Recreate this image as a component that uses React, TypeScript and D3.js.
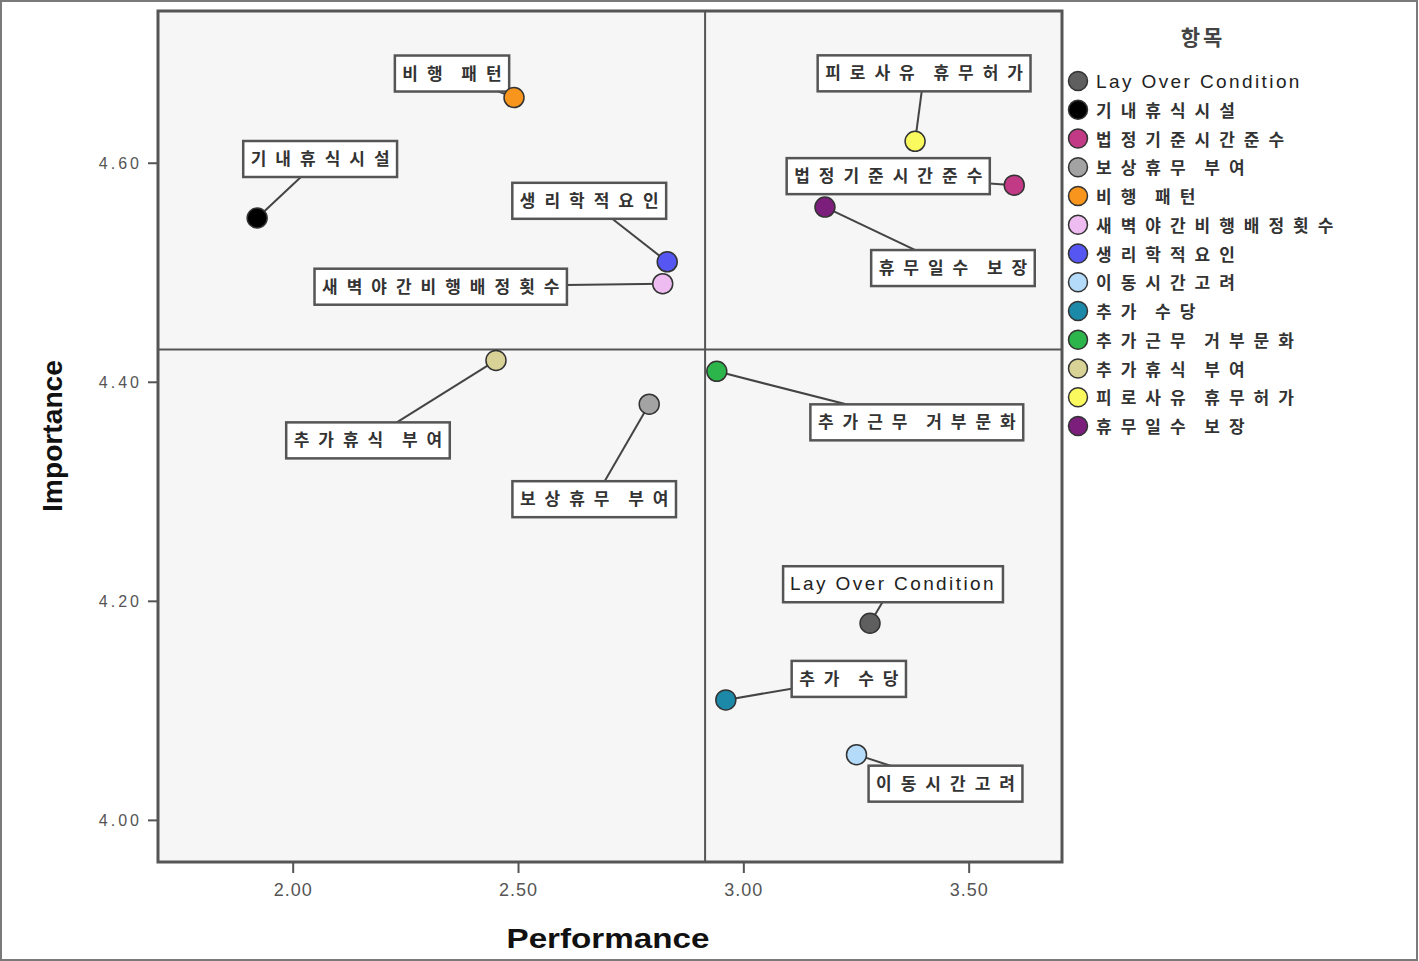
import React, { useEffect, useRef } from "react";
import * as d3 from "d3";

const names = [
  "Lay Over Condition",
  "기내휴식시설",
  "법정기준시간준수",
  "보상휴무 부여",
  "비행 패턴",
  "새벽야간비행배정횟수",
  "생리학적요인",
  "이동시간고려",
  "추가 수당",
  "추가근무 거부문화",
  "추가휴식 부여",
  "피로사유 휴무허가",
  "휴무일수 보장",
];
const performance = [3.28, 1.92, 3.6, 2.79, 2.49, 2.82, 2.83, 3.25, 2.96, 2.94, 2.45, 3.38, 3.18];
const importance = [4.18, 4.55, 4.58, 4.38, 4.66, 4.49, 4.51, 4.06, 4.11, 4.41, 4.42, 4.62, 4.56];
const colors = [
  "#5f5f5f", "#000000", "#c23a86", "#a3a3a3", "#f7951d", "#eebcf0", "#5656f2",
  "#b4dcfa", "#1d89a8", "#2bb54a", "#d8d296", "#fafa5e", "#7c1f7c",
];
// label box centre offsets from each point (pixels)
const labelOffsets: [number, number][] = [
  [23, -39], [63, -59], [-126, -9], [-55, 95], [-62, -24], [-222, 3], [-78, -61],
  [89, 29], [123, -21], [200, 51], [-128, 80], [9, -68], [128, 61],
];
const xTicks = [2.0, 2.5, 3.0, 3.5];
const yTicks = [4.0, 4.2, 4.4, 4.6];
const xMean = 2.914;
const yMean = 4.43;
const legendTitle = "항목";
const xTitle = "Performance";
const yTitle = "Importance";

const W = 1419;
const H = 961;
const L = 158, R = 1062, T = 11, B = 862;

export default function App() {
  const ref = useRef<SVGSVGElement>(null);
  useEffect(() => {
    const svg = d3.select(ref.current!);
    svg.selectAll("*").remove();
    const x = d3.scaleLinear().domain([1.7, 3.706]).range([L, R]);
    const y = d3.scaleLinear().domain([3.962, 4.739]).range([B, T]);

    svg.append("rect").attr("x", 1).attr("y", 1).attr("width", W - 3).attr("height", H - 2)
      .attr("fill", "#fff").attr("stroke", "#7a7a7a").attr("stroke-width", 2);

    svg.append("rect").attr("x", L).attr("y", T).attr("width", R - L).attr("height", B - T)
      .attr("fill", "#f6f6f6").attr("stroke", "#555").attr("stroke-width", 3);

    // ticks
    const gx = svg.append("g");
    xTicks.forEach((t) => {
      gx.append("line").attr("x1", x(t)).attr("x2", x(t)).attr("y1", B).attr("y2", B + 11)
        .attr("stroke", "#555").attr("stroke-width", 2);
      gx.append("text").attr("x", x(t)).attr("y", B + 34).attr("text-anchor", "middle")
        .attr("font-family", "Liberation Sans, Arial, sans-serif").attr("font-size", 18)
        .attr("letter-spacing", 1).attr("fill", "#555").text(d3.format(".2f")(t));
    });
    const gy = svg.append("g");
    yTicks.forEach((t) => {
      gy.append("line").attr("x1", L - 10).attr("x2", L).attr("y1", y(t)).attr("y2", y(t))
        .attr("stroke", "#555").attr("stroke-width", 2);
      gy.append("text").attr("x", L - 16).attr("y", y(t) + 6).attr("text-anchor", "end")
        .attr("font-family", "Liberation Sans, Arial, sans-serif").attr("font-size", 16)
        .attr("letter-spacing", 3).attr("fill", "#555").text(d3.format(".2f")(t));
    });

    // quadrant lines
    svg.append("line").attr("x1", x(xMean)).attr("x2", x(xMean)).attr("y1", T).attr("y2", B)
      .attr("stroke", "#555").attr("stroke-width", 2);
    svg.append("line").attr("x1", L).attr("x2", R).attr("y1", y(yMean)).attr("y2", y(yMean))
      .attr("stroke", "#555").attr("stroke-width", 2);

    // axis titles
    svg.append("text").attr("x", 608).attr("y", 948).attr("text-anchor", "middle")
      .attr("font-family", "Liberation Sans Narrow, Liberation Sans, Arial, sans-serif")
      .attr("font-weight", "bold").attr("font-size", 28).attr("fill", "#111")
      .attr("textLength", 203).attr("lengthAdjust", "spacingAndGlyphs").text(xTitle);
    svg.append("text").attr("transform", "translate(62,436) rotate(-90)").attr("text-anchor", "middle")
      .attr("font-family", "Liberation Sans Narrow, Liberation Sans, Arial, sans-serif")
      .attr("font-weight", "bold").attr("font-size", 28).attr("fill", "#111")
      .attr("textLength", 152).attr("lengthAdjust", "spacingAndGlyphs").text(yTitle);

    const isHangul = (s: string) => /[가-힣]/.test(s);
    const fontFam = "Liberation Sans, 'Noto Sans CJK KR', sans-serif";
    const styleText = (t: any, n: string) =>
      t.attr("font-family", fontFam)
        .attr("font-size", isHangul(n) ? 17 : 19)
        .attr("font-weight", isHangul(n) ? "bold" : "normal")
        .attr("letter-spacing", isHangul(n) ? 9 : 2.4)
        .attr("word-spacing", isHangul(n) ? -4 : 0)
        .attr("fill", isHangul(n) ? "#333" : "#222");

    const pts = names.map((n, i) => ({
      n, i, px: x(performance[i]), py: y(importance[i]),
      cx: x(performance[i]) + labelOffsets[i][0], cy: y(importance[i]) + labelOffsets[i][1],
    }));

    // leader lines
    svg.append("g").selectAll("line").data(pts).join("line")
      .attr("x1", (d) => d.px).attr("y1", (d) => d.py).attr("x2", (d) => d.cx).attr("y2", (d) => d.cy)
      .attr("stroke", "#444").attr("stroke-width", 2);

    // label boxes
    const lg = svg.append("g");
    pts.forEach((d) => {
      const g = lg.append("g");
      const rect = g.append("rect");
      const txt = g.append("text").attr("x", d.cx).attr("y", d.cy + 6).attr("text-anchor", "middle");
      styleText(txt, d.n).text(d.n);
      const bb = (txt.node() as SVGTextElement).getBBox();
      const w = bb.width + (isHangul(d.n) ? 6 : 14);
      rect.attr("x", d.cx - w / 2).attr("y", d.cy - 18).attr("width", w).attr("height", 36)
        .attr("fill", "#fff").attr("stroke", "#555").attr("stroke-width", 2.5);
      if (isHangul(d.n)) txt.attr("x", d.cx + 4.5);
    });

    // points
    svg.append("g").selectAll("circle").data(pts).join("circle")
      .attr("cx", (d) => d.px).attr("cy", (d) => d.py).attr("r", 10)
      .attr("fill", (d) => colors[d.i]).attr("stroke", "#333").attr("stroke-width", 1.5);

    // legend
    svg.append("text").attr("x", 1203).attr("y", 45).attr("text-anchor", "middle")
      .attr("font-family", fontFam).attr("font-size", 21).attr("font-weight", "bold")
      .attr("letter-spacing", 3).attr("fill", "#444").text(legendTitle);
    const leg = svg.append("g");
    names.forEach((n, i) => {
      const yy = 81 + i * 28.75;
      leg.append("circle").attr("cx", 1078).attr("cy", yy).attr("r", 9.5)
        .attr("fill", colors[i]).attr("stroke", "#333").attr("stroke-width", 1.5);
      const t = leg.append("text").attr("x", 1096).attr("y", yy + 7);
      styleText(t, n).text(n);
    });
  }, []);
  return (
    <div style={{ position: "absolute", left: 0, top: 0 }}>
      <svg ref={ref} width={W} height={H} style={{ display: "block" }} />
    </div>
  );
}
